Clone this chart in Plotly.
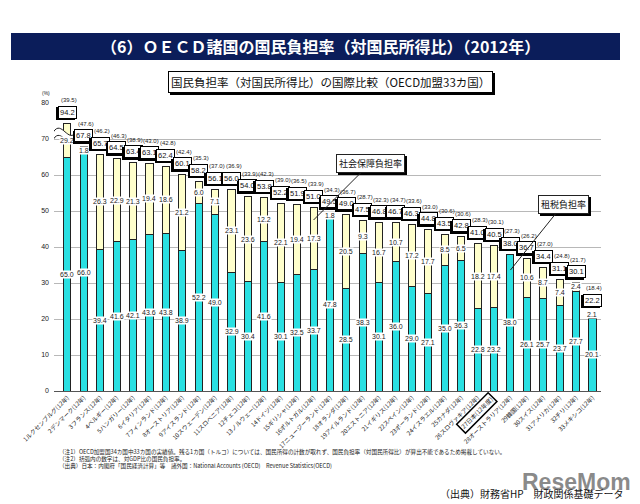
import plotly.graph_objects as go

countries = ["1ルクセンブルグ(12年)", "2デンマーク(12年)", "3フランス(12年)", "4ベルギー(12年)",
             "5ハンガリー(12年)", "6イタリア(12年)", "7フィンランド(12年)", "8オーストリア(12年)",
             "9アイスランド(12年)", "10スウェーデン(12年)", "11スロベニア(12年)", "12チェコ(12年)",
             "13ノルウェー(12年)", "14ドイツ(12年)", "15ギリシャ(12年)", "16ポルトガル(12年)",
             "17ニュージーランド(12年)", "18オランダ(12年)", "19アイルランド(12年)", "20エストニア(12年)",
             "21イギリス(12年)", "22スペイン(12年)", "23ポーランド(12年)", "24イスラエル(12年)",
             "25カナダ(12年)", "26スロヴァキア(12年)", "27日本(12年度)", "28オーストラリア(12年)",
             "29韓国(12年)", "30スイス(12年)", "31アメリカ(12年)", "32チリ(12年)", "33メキシコ(12年)"]
tax = [65.0, 66.0, 39.4, 41.6, 42.1, 43.6, 43.8, 38.9, 52.2, 49.0, 32.9, 30.4, 41.6, 30.1, 32.5, 33.7,
       47.8, 28.5, 38.3, 30.1, 36.0, 29.0, 27.1, 35.0, 36.3, 22.8, 23.2, 38.0, 26.1, 25.7, 23.7, 27.7, 20.1]
social = [29.2, 1.8, 26.3, 22.9, 21.3, 19.4, 18.6, 21.2, 6.0, 7.1, 23.1, 23.6, 12.2, 22.1, 19.4, 17.3,
          1.8, 20.5, 9.3, 16.7, 10.7, 17.2, 17.7, 8.5, 6.5, 18.2, 17.4, 0.0, 10.6, 8.7, 7.4, 2.4, 2.1]
total = [94.2, 67.8, 65.7, 64.5, 63.4, 63.1, 62.4, 60.1, 58.2, 56.1, 56.0, 54.0, 53.8, 52.2, 51.9, 51.0,
         49.5, 49.0, 47.5, 46.8, 46.7, 46.3, 44.8, 43.5, 42.8, 41.0, 40.5, 38.0, 36.7, 34.4, 31.1, 30.1, 22.2]
gdp_ratio = [39.5, 47.6, 46.2, 46.3, 38.9, 43.0, 42.8, 42.4, 35.3, 37.0, 36.9, 33.9, 42.3, 39.0, 36.5, 33.9,
             34.3, 36.7, 28.7, 32.3, 34.7, 33.6, 33.0, 30.6, 30.6, 28.3, 30.1, 27.3, 26.2, 27.0, 24.8, 21.7, 18.4]
y_ticks = [0, 10, 20, 30, 40, 50, 60, 70, 80]

JAPAN_IDX = 26
SS_POINTER_IDX = 15     # 社会保障負担率 callout points at this bar
TAX_POINTER_IDX = 27    # 租税負担率 callout points at this bar
BREAK_TOP = 74.4        # visible top of the broken (Luxembourg) bar

JP = "Noto Sans CJK JP, sans-serif"
NUM = "Liberation Sans, Arial, sans-serif"
CYAN = "#2ae0e2"
CREAM = "#ffffcc"

# plot-area geometry in page pixels
L, T, W, H = 54, 103, 547, 288


def px(xp):
    return (xp - L) / W


def py(yp):
    return (T + H - yp) / H


x = list(range(len(countries)))
shown_top = [min(t, BREAK_TOP) for t in total]
shown_social = [max(st - tx, 0) for st, tx in zip(shown_top, tax)]

fig = go.Figure()
fig.add_trace(go.Bar(x=x, y=tax, width=0.43, marker=dict(color=CYAN, line=dict(color="#222", width=1)),
                     name="租税負担率", hoverinfo="skip"))
fig.add_trace(go.Bar(x=x, y=shown_social, width=0.43, marker=dict(color=CREAM, line=dict(color="#222", width=1)),
                     name="社会保障負担率", hoverinfo="skip"))

ann = []
for i in x:
    ann.append(dict(x=i, y=tax[i] / 2, text=f"{tax[i]:.1f}", showarrow=False, bgcolor="white",
                    borderpad=0, font=dict(size=7, color="#222", family=NUM)))
    if social[i] > 0:
        ann.append(dict(x=i, y=tax[i] + shown_social[i] / 2, text=f"{social[i]:.1f}", showarrow=False,
                        bgcolor="white", borderpad=0, font=dict(size=7, color="#222", family=NUM)))
for i in x:
    ann.append(dict(x=i, y=shown_top[i], yanchor="bottom", yshift=3, xshift=-1.5, text=f"{total[i]:.1f}",
                    showarrow=False, bgcolor="black", bordercolor="black", borderwidth=1, borderpad=1,
                    font=dict(size=7.5, color="black", family=NUM)))
    ann.append(dict(x=i, y=shown_top[i], yanchor="bottom", yshift=4.5, text=f"{total[i]:.1f}",
                    showarrow=False, bgcolor="white", bordercolor="black", borderwidth=1, borderpad=1,
                    font=dict(size=7.5, color="#111", family=NUM)))
    ann.append(dict(x=i, y=shown_top[i], yanchor="bottom", yshift=18, xshift=2, text=f"({gdp_ratio[i]:.1f})",
                    showarrow=False, font=dict(size=6, color="#222", family=NUM)))

# callouts
for label, idx, yv, ax, ay in [("社会保障負担率", SS_POINTER_IDX, 47.5, 57, -57),
                               ("租税負担率", TAX_POINTER_IDX, 33.6, 53, -66)]:
    ann.append(dict(x=idx, y=yv, text=label, showarrow=True, arrowhead=0, arrowwidth=0.1,
                    arrowcolor="rgba(0,0,0,0)", ax=ax, ay=ay, xshift=2, yshift=-2, bgcolor="black",
                    bordercolor="black", borderwidth=1, borderpad=2, font=dict(size=9, color="black", family=JP)))
    ann.append(dict(x=idx, y=yv, text=label, showarrow=True, arrowhead=0, arrowwidth=1, arrowcolor="#222",
                    ax=ax, ay=ay, bgcolor="white", bordercolor="#222", borderwidth=1, borderpad=2,
                    font=dict(size=9, color="#111", family=JP)))

# Japan label with box
ann.append(dict(x=JAPAN_IDX, y=0, yref="paper", xanchor="right", yanchor="top", xshift=4, yshift=-1,
                text=countries[JAPAN_IDX], textangle=-45, showarrow=False, bgcolor="white",
                bordercolor="black", borderwidth=1.5, borderpad=1, font=dict(size=6, color="#222", family=JP)))


def page_text(xp, yp, text, size, color="#111", family=JP, xanchor="center", **kw):
    return dict(x=px(xp), y=py(yp), xref="paper", yref="paper", xanchor=xanchor, yanchor="middle",
                showarrow=False, text=text, font=dict(size=size, color=color, family=family), **kw)


ann.append(page_text(320, 46, "<b>（6）ＯＥＣＤ諸国の国民負担率（対国民所得比）（2012年）</b>", 16, color="white"))
sub = "国民負担率（対国民所得比）の国際比較（OECD加盟33カ国）"
ann.append(page_text(330, 82, sub, 11.5, color="black", xshift=2, yshift=-2, bgcolor="black",
                     bordercolor="black", borderwidth=1, borderpad=2))
ann.append(page_text(330, 82, sub, 11.5, color="#111", bgcolor="white",
                     bordercolor="black", borderwidth=1, borderpad=2))
ann.append(page_text(46, 93, "(%)", 5, color="#222", family=NUM))
notes = ["（注1）OECD加盟国34カ国中33カ国の実績値。残る1カ国（トルコ）については、国民所得の計数が取れず、国民負担率（対国民所得比）が算出不能であるため掲載していない。",
         "（注2）括弧内の数字は、対GDP比の国民負担率。",
         "（出典）日本：内閣府「国民経済計算」等　諸外国：National Accounts (OECD)　Revenue Statistics(OECD)"]
for k, line in enumerate(notes):
    ann.append(page_text(57, 452 + 7 * k, line, 5.6, color="#222", xanchor="left"))
ann.append(page_text(633, 482, "<b>ReseMom</b>", 23, color="rgba(100,100,100,0.75)", family=NUM, xanchor="right"))
ann.append(page_text(626, 493, "（出典）財務省HP　財政関係基礎データ", 10, color="#111", xanchor="right"))

shapes = [
    dict(type="rect", xref="paper", yref="paper", x0=px(11), x1=px(620), y0=py(60), y1=py(33),
         fillcolor="#0b1d5a", line=dict(width=0), layer="below"),
    # axis break on the first bar
    dict(type="path", xref="x", yref="y",
         path="M -0.85,72 C -0.35,75.5 0.05,68.5 0.55,72 L 0.55,70 C 0.05,66.5 -0.35,73.5 -0.85,70 Z",
         fillcolor="white", line=dict(width=0)),
    dict(type="path", xref="x", yref="y", path="M -0.85,72 C -0.35,75.5 0.05,68.5 0.55,72",
         line=dict(color="#222", width=1)),
    dict(type="path", xref="x", yref="y", path="M -0.85,70 C -0.35,73.5 0.05,66.5 0.55,70",
         line=dict(color="#222", width=1)),
]

fig.update_layout(
    width=640, height=504, barmode="stack", showlegend=False,
    margin=dict(l=L, r=640 - L - W, t=T, b=504 - T - H),
    paper_bgcolor="white", plot_bgcolor="white",
    annotations=ann, shapes=shapes,
    xaxis=dict(range=[-0.82, 32.52], tickmode="array", tickvals=x,
               ticktext=[("" if i == JAPAN_IDX else c) for i, c in enumerate(countries)],
               tickangle=-45, tickfont=dict(size=6, color="#222", family=JP), showline=True,
               linecolor="#555", linewidth=1, ticks="", showgrid=False, fixedrange=True),
    yaxis=dict(range=[0, 80], tickmode="array", tickvals=y_ticks, tickfont=dict(size=7, color="#222", family=NUM),
               showgrid=True, gridcolor="#b8b8b8", gridwidth=1, zeroline=False, showline=False,
               ticks="", ticklabelstandoff=4, fixedrange=True),
)

fig.write_html("out.html", config={"displayModeBar": False},
               post_script="document.body.style.margin='0';")
